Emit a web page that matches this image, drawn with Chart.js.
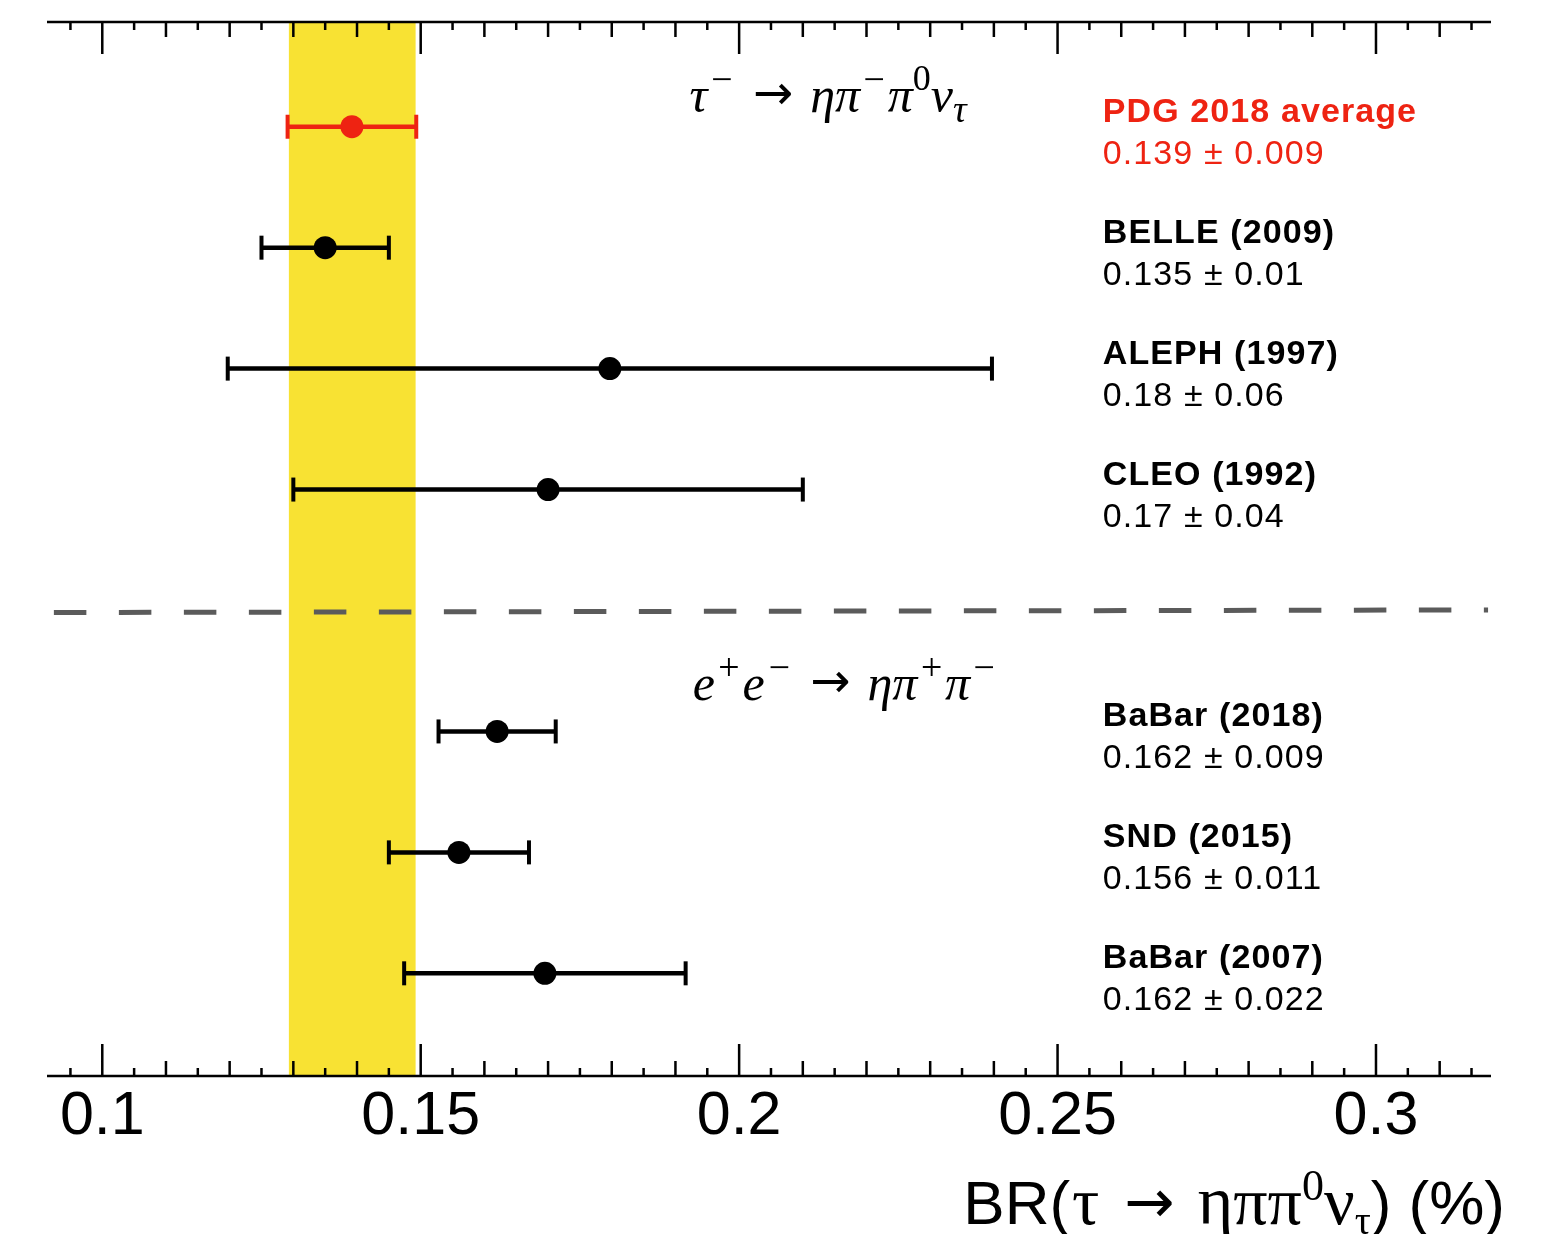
<!DOCTYPE html>
<html>
<head>
<meta charset="utf-8">
<script src="https://cdn.jsdelivr.net/npm/chart.js@4.4.1/dist/chart.umd.min.js"></script>
<style>
  html, body { margin: 0; padding: 0; background: #fff; }
  canvas { display: block; }
</style>
</head>
<body>
<canvas id="chart-br" width="1547" height="1234"></canvas>
<script>
// tau -> eta pi pi0 nu branching ratio comparison

const expNames = ['PDG 2018 average', 'BELLE (2009)', 'ALEPH (1997)', 'CLEO (1992)', 'BaBar (2018)', 'SND (2015)', 'BaBar (2007)'];
const expValueLabels = ['0.139 ± 0.009', '0.135 ± 0.01', '0.18 ± 0.06', '0.17 ± 0.04', '0.162 ± 0.009', '0.156 ± 0.011', '0.162 ± 0.022'];
const expRows = [0, 1, 2, 3, 5, 6, 7];
const expCentral = [0.1392, 0.1350, 0.1797, 0.1700, 0.1620, 0.1560, 0.1695];
const expError = [0.0101, 0.0100, 0.0600, 0.0400, 0.0092, 0.0110, 0.0221];
const expIsAverage = [true, false, false, false, false, false, false];

const bandLow = 0.1293;
const bandHigh = 0.1492;

const separatorX = [0.0924, 0.3176];
const separatorY = [4.017, 3.995];

const majorTickValues = [0.1, 0.15, 0.2, 0.25, 0.3];
const majorTickLabels = ['0.1', '0.15', '0.2', '0.25', '0.3'];

const RED = '#ee2312';
const YELLOW = '#f8e233';
const SANS = "'Liberation Sans', Arial, sans-serif";
const SERIF = "'Liberation Serif', 'DejaVu Serif', serif";
const ARROW = "'DejaVu Sans', sans-serif";

function drawRich(ctx, segs, x, y, align) {
    let total = 0;
    const widths = segs.map(s => {
        ctx.font = s.font;
        const w = ctx.measureText(s.text).width + (s.pad || 0);
        total += w;
        return w;
    });
    let cx = align === 'right' ? x - total : x;
    ctx.textAlign = 'left';
    ctx.textBaseline = 'alphabetic';
    segs.forEach((s, i) => {
        ctx.font = s.font;
        ctx.fillText(s.text, cx + (s.pad || 0) / 2, y + (s.dy || 0));
        cx += widths[i];
    });
}

const bandPlugin = {
    id: 'pdgBand',
    beforeDatasetsDraw(chart) {
        const { ctx, chartArea, scales } = chart;
        const x0 = scales.x.getPixelForValue(bandLow);
        const x1 = scales.x.getPixelForValue(bandHigh);
        ctx.save();
        ctx.fillStyle = YELLOW;
        ctx.fillRect(x0, chartArea.top, x1 - x0, chartArea.bottom - chartArea.top);
        ctx.restore();
    },
};

const axisPlugin = {
    id: 'frameAxis',
    afterDraw(chart) {
        const { ctx, chartArea, scales } = chart;
        const xs = scales.x;
        ctx.save();
        ctx.strokeStyle = '#000';
        ctx.lineWidth = 2.5;
        ctx.beginPath();
        ctx.moveTo(chartArea.left, chartArea.top);
        ctx.lineTo(chartArea.right, chartArea.top);
        ctx.moveTo(chartArea.left, chartArea.bottom);
        ctx.lineTo(chartArea.right, chartArea.bottom);
        ctx.stroke();

        // inward ticks every 0.005, longer every 0.01 and 0.05
        ctx.lineWidth = 2.5;
        ctx.beginPath();
        for (let i = 19; i <= 63; i++) {
            const px = xs.getPixelForValue(i * 0.005);
            if (px < chartArea.left || px > chartArea.right) continue;
            const len = i % 10 === 0 ? 32 : (i % 2 === 0 ? 15 : 8);
            ctx.moveTo(px, chartArea.top);
            ctx.lineTo(px, chartArea.top + len);
            ctx.moveTo(px, chartArea.bottom);
            ctx.lineTo(px, chartArea.bottom - len);
        }
        ctx.stroke();

        ctx.fillStyle = '#000';
        ctx.font = '61px ' + SANS;
        ctx.textAlign = 'center';
        ctx.textBaseline = 'alphabetic';
        majorTickValues.forEach((v, i) => {
            ctx.fillText(majorTickLabels[i], xs.getPixelForValue(v), chartArea.bottom + 58);
        });

        // axis title BR(tau -> eta pi pi0 nu_tau) (%)
        const big = '68px ' + SERIF;
        drawRich(ctx, [
            { text: 'BR(', font: '62px ' + SANS },
            { text: 'τ', font: big, pad: 4 },
            { text: '→', font: '60px ' + ARROW, pad: 46, dy: -2 },
            { text: 'ηππ', font: big },
            { text: '0', font: '44px ' + SERIF, dy: -24 },
            { text: 'ν', font: big },
            { text: 'τ', font: '40px ' + SERIF, dy: 10 },
            { text: ') (%)', font: '62px ' + SANS },
        ], 1505, chartArea.bottom + 148, 'right');
        ctx.restore();
    },
};

const labelPlugin = {
    id: 'expLabels',
    afterDatasetsDraw(chart) {
        const { ctx, scales } = chart;
        const lx = scales.x.getPixelForValue(0.2571);
        ctx.save();
        ctx.textAlign = 'left';
        ctx.textBaseline = 'alphabetic';
        ctx.letterSpacing = '1.1px';
        expNames.forEach((name, i) => {
            const py = scales.y.getPixelForValue(expRows[i]);
            ctx.fillStyle = expIsAverage[i] ? RED : '#000';
            ctx.font = 'bold 34px ' + SANS;
            ctx.fillText(name, lx, py - 5);
            ctx.font = '34px ' + SANS;
            ctx.fillText(expValueLabels[i], lx, py + 37);
        });
        ctx.letterSpacing = '0px';

        // process annotations
        ctx.fillStyle = '#000';
        const it = 'italic 50px ' + SERIF;
        const sup = 'italic 38px ' + SERIF;
        const arrow = { text: '→', font: '48px ' + ARROW, pad: 34, dy: -3 };
        drawRich(ctx, [
            { text: 'τ', font: it },
            { text: '−', font: sup, dy: -20, pad: 3 },
            arrow,
            { text: 'η', font: it },
            { text: 'π', font: it },
            { text: '−', font: sup, dy: -20, pad: 2 },
            { text: 'π', font: it },
            { text: '0', font: '36px ' + SERIF, dy: -22 },
            { text: 'ν', font: it },
            { text: 'τ', font: sup, dy: 10 },
        ], scales.x.getPixelForValue(0.1922), scales.y.getPixelForValue(-0.12), 'left');
        drawRich(ctx, [
            { text: 'e', font: it },
            { text: '+', font: sup, dy: -20, pad: 2 },
            { text: 'e', font: it },
            { text: '−', font: sup, dy: -20, pad: 3 },
            arrow,
            { text: 'η', font: it },
            { text: 'π', font: it },
            { text: '+', font: sup, dy: -20, pad: 2 },
            { text: 'π', font: it },
            { text: '−', font: sup, dy: -20, pad: 2 },
        ], scales.x.getPixelForValue(0.1927), scales.y.getPixelForValue(4.74), 'left');
        ctx.restore();
    },
};

const pointColors = expIsAverage.map(a => (a ? RED : '#000'));

const errorDatasets = expCentral.map((c, i) => ({
    label: 'err ' + expNames[i],
    showLine: true,
    data: [
        { x: c - expError[i], y: expRows[i] },
        { x: c + expError[i], y: expRows[i] },
    ],
    borderColor: pointColors[i],
    borderWidth: 4.5,
    pointStyle: 'line',
    pointRotation: 90,
    pointRadius: 12,
    pointBorderWidth: 4,
    pointBorderColor: pointColors[i],
    pointBackgroundColor: pointColors[i],
}));

const ctx = document.getElementById('chart-br').getContext('2d');
new Chart(ctx, {
    type: 'scatter',
    data: {
        datasets: [
            {
                label: 'measurements',
                data: expCentral.map((c, i) => ({ x: c, y: expRows[i] })),
                pointRadius: 11.5,
                pointBackgroundColor: pointColors,
                pointBorderColor: pointColors,
                pointBorderWidth: 0,
            },
            ...errorDatasets,
            {
                label: 'separator',
                showLine: true,
                data: separatorX.map((x, i) => ({ x, y: separatorY[i] })),
                borderColor: '#5b5b5b',
                borderWidth: 5,
                borderDash: [32.5, 32.5],
                pointRadius: 0,
            },
        ],
    },
    plugins: [bandPlugin, labelPlugin, axisPlugin],
    options: {
        responsive: false,
        devicePixelRatio: 1,
        animation: false,
        layout: { padding: { top: 22, right: 56, bottom: 158, left: 47 } },
        plugins: {
            legend: { display: false },
            tooltip: { enabled: false },
        },
        scales: {
            x: { type: 'linear', display: false, min: 0.09132, max: 0.31806 },
            y: { type: 'linear', display: false, reverse: true, min: -0.866, max: 7.849 },
        },
    },
});
</script>
</body>
</html>
